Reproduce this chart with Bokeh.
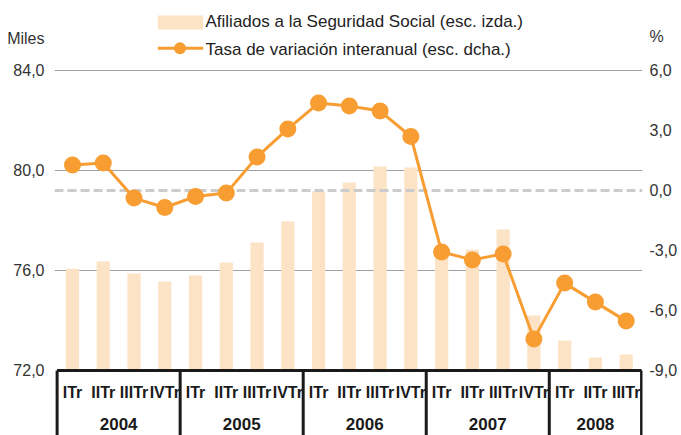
from bokeh.plotting import figure
from bokeh.models import Range1d, LinearAxis, FixedTicker, CustomJSTickFormatter
from bokeh.core.properties import value
from bokeh.embed import file_html
from bokeh.resources import INLINE

# ---------------- data ----------------
years = ["2004", "2005", "2006", "2007", "2008"]
quarters_per_year = [4, 4, 4, 4, 3]
quarter_names = ["ITr", "IITr", "IIITr", "IVTr"]
afiliados = [76.07, 76.36, 75.88, 75.56, 75.80, 76.32, 77.12, 77.96,
             79.17, 79.52, 80.16, 80.12, 76.90, 76.83, 77.64, 74.20,
             73.20, 72.52, 72.64]
tasa = [1.28, 1.37, -0.38, -0.85, -0.30, -0.13, 1.68, 3.08,
        4.37, 4.22, 3.97, 2.70, -3.07, -3.47, -3.17, -7.42,
        -4.63, -5.58, -6.53]
left_ticks = [72, 76, 80, 84]
right_ticks = [-9, -6, -3, 0, 3, 6]
legend_labels = ["Afiliados a la Seguridad Social (esc. izda.)",
                 "Tasa de variación interanual (esc. dcha.)"]
left_unit = "Miles"
right_unit = "%"

# ---------------- layout ----------------
W, H = 681, 435
BL, BR = 54, 39
FW = W - BL - BR
PXQ = 30.76
FIRST_Q_PX = 72.0          # canvas x of first quarter centre
TOP_PX, BOT_PX = 70, 370   # canvas y of top / bottom tick
FONT = "Liberation Sans"
BAR_COLOR = "#FDE3C6"
LINE_COLOR = "#F79D32"

x_start = -(FIRST_Q_PX - BL) / PXQ
x_end = x_start + FW / PXQ
sl = (BOT_PX - TOP_PX) / (max(left_ticks) - min(left_ticks))
sr = (BOT_PX - TOP_PX) / (max(right_ticks) - min(right_ticks))
yl_end = max(left_ticks) + TOP_PX / sl
yl_start = min(left_ticks) - (H - BOT_PX) / sl
yr_end = max(right_ticks) + TOP_PX / sr
yr_start = min(right_ticks) - (H - BOT_PX) / sr


def xd(cx):
    return x_start + (cx - BL) / PXQ


def yl(cy):
    return yl_end - cy / sl


def yr(cy):
    return yr_end - cy / sr


n = len(afiliados)
idx = list(range(n))
q_labels = [quarter_names[j] for k in quarters_per_year for j in range(k)]

p = figure(width=W, height=H, x_range=Range1d(x_start, x_end),
           y_range=Range1d(yl_start, yl_end), x_axis_location=None,
           output_backend="svg", toolbar_location=None,
           min_border_left=BL, min_border_right=BR,
           min_border_top=0, min_border_bottom=0)
p.outline_line_color = None
p.background_fill_color = "white"
p.extra_y_ranges = {"right": Range1d(yr_start, yr_end)}

fmt = CustomJSTickFormatter(code="return tick.toFixed(1).replace('.', ',');")

# unit captions sit at the head of each axis
unit_left_pos = round(yl(38), 3)
unit_right_pos = round(yr(36), 3)

la = p.yaxis[0]
la.ticker = FixedTicker(ticks=left_ticks + [unit_left_pos])
la.formatter = fmt
la.major_label_overrides = {unit_left_pos: left_unit}
ra = LinearAxis(y_range_name="right",
                ticker=FixedTicker(ticks=right_ticks + [unit_right_pos]),
                formatter=fmt, major_label_overrides={unit_right_pos: right_unit})
p.add_layout(ra, "right")
for ax, so in ((la, 10), (ra, 7)):
    ax.axis_line_color = None
    ax.major_tick_line_color = None
    ax.minor_tick_line_color = None
    ax.major_tick_in = 0
    ax.major_tick_out = 0
    ax.major_label_standoff = so
    ax.major_label_text_font = FONT
    ax.major_label_text_font_size = "16px"
    ax.major_label_text_color = "#333333"

p.ygrid.ticker = FixedTicker(ticks=left_ticks[1:])
p.ygrid.grid_line_color = "#A0A0A0"
p.ygrid.grid_line_width = 1
p.xgrid.visible = False

# bars
p.vbar(x=idx, top=afiliados, bottom=min(left_ticks), width=0.43,
       fill_color=BAR_COLOR, line_color=None)

# zero reference line (right scale)
p.segment(x0=[x_start], x1=[x_end], y0=[0], y1=[0], y_range_name="right",
          line_color="#CCCCCC", line_width=3, line_dash="9 4")

# rate line
p.line(idx, tasa, y_range_name="right", line_color=LINE_COLOR, line_width=3)
p.scatter(idx, tasa, y_range_name="right", size=17, fill_color=LINE_COLOR,
          line_color=None)

# category box axis
edges = [-0.5]
for k in quarters_per_year:
    edges.append(edges[-1] + k)
p.segment(x0=[edges[0]], x1=[edges[-1]], y0=[min(left_ticks)], y1=[min(left_ticks)],
          line_color="#1A1A1A", line_width=3)
p.segment(x0=edges, x1=edges, y0=[min(left_ticks)] * len(edges),
          y1=[yl_start] * len(edges), line_color="#1A1A1A", line_width=3)
p.text(x=idx, y=[yl(392)] * n, text=q_labels, text_align="center",
       text_baseline="middle", text_font=value(FONT), text_font_size="16px",
       text_font_style="bold", text_color="#1A1A1A")
mids = [(edges[i] + edges[i + 1]) / 2 for i in range(len(years))]
p.text(x=mids, y=[yl(423)] * len(years), text=years, text_align="center",
       text_baseline="middle", text_font=value(FONT), text_font_size="17px",
       text_font_style="bold", text_color="#1A1A1A")

# legend (drawn)
p.quad(left=[xd(157.3)], right=[xd(202.7)], top=[yl(15)], bottom=[yl(29)],
       fill_color=BAR_COLOR, line_color=None)
p.line(x=[xd(157.3), xd(202.7)], y=[yl(47.7), yl(47.7)], line_color=LINE_COLOR,
       line_width=3)
p.scatter(x=[xd(179.5)], y=[yl(47.7)], size=12, fill_color=LINE_COLOR, line_color=None)
p.text(x=[xd(205), xd(205)], y=[yl(21), yl(48.5)], text=legend_labels,
       text_align="left", text_baseline="middle", text_font=value(FONT),
       text_font_size="17px", text_color="#222222")

open("out.html", "w").write(file_html(p, INLINE))
